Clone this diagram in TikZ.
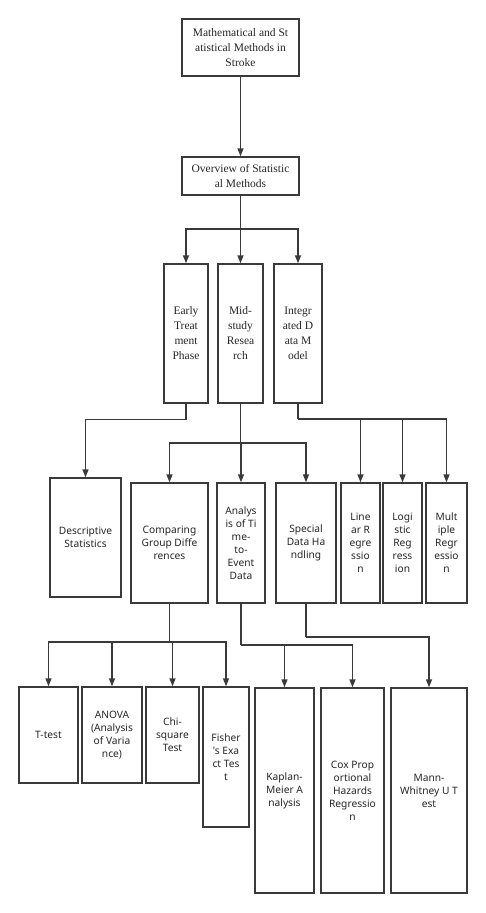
\documentclass[tikz,border=0pt]{standalone}
\usepackage{fontspec}
\setmainfont{Liberation Serif}
\newfontfamily\boxsans{Noto Sans}
\usetikzlibrary{arrows.meta}
\definecolor{lineclr}{HTML}{3A3A3A}

\begin{document}
\begin{tikzpicture}[
    x=1pt, y=-1pt,
    >={Triangle[length=8pt, width=6pt]},
    box/.style={rectangle, draw=lineclr, line width=1.4pt, align=center, inner sep=1pt, text=black!85},
    serifbox/.style={box, font=\fontsize{11.5}{15}\selectfont},
    sansbox/.style={box, font=\boxsans\fontsize{10.2}{13}\selectfont},
    link/.style={draw=lineclr, line width=1.4pt},
    ]
  \useasboundingbox (0,0) rectangle (486,913);

  \node[serifbox, minimum width=117pt, minimum height=57pt] (root) at (240.5, 47.5) {Mathematical and St\\atistical Methods in\\Stroke};
  \node[serifbox, minimum width=117pt, minimum height=38pt] (overview) at (240.5, 176) {Overview of Statistic\\al Methods};

  \node[serifbox, minimum width=44pt, minimum height=139pt] (early) at (186, 333.5) {Early\\Treat\\ment\\Phase};
  \node[serifbox, minimum width=45pt, minimum height=139pt] (mid) at (240.5, 333.5) {Mid-\\study\\Resea\\rch};
  \node[serifbox, minimum width=48pt, minimum height=139pt] (integ) at (298, 333.5) {Integr\\ated D\\ata M\\odel};

  \node[sansbox, minimum width=71pt, minimum height=119pt] (desc) at (85.5, 537.5) {Descriptive\\Statistics};
  \node[sansbox, minimum width=77pt, minimum height=120pt] (comp) at (169.5, 543) {Comparing\\Group Diffe\\rences};
  \node[sansbox, minimum width=48pt, minimum height=120pt] (tte) at (241, 543) {Analys\\is of Ti\\me-\\to-\\Event\\Data};
  \node[sansbox, minimum width=60pt, minimum height=120pt] (spec) at (306, 543) {Special\\Data Ha\\ndling};
  \node[sansbox, minimum width=39pt, minimum height=120pt] (linreg) at (360.5, 543) {Line\\ar R\\egre\\ssio\\n};
  \node[sansbox, minimum width=39pt, minimum height=120pt] (logreg) at (402.5, 543) {Logi\\stic\\Reg\\ress\\ion};
  \node[sansbox, minimum width=41pt, minimum height=120pt] (multreg) at (446.5, 543) {Mult\\iple\\Regr\\essio\\n};

  \node[sansbox, minimum width=59pt, minimum height=96pt] (ttest) at (48.5, 735) {T-test};
  \node[sansbox, minimum width=60pt, minimum height=96pt] (anova) at (112, 735) {ANOVA\\(Analysis\\of Varia\\nce)};
  \node[sansbox, minimum width=53pt, minimum height=96pt] (chisq) at (172.5, 735) {Chi-\\square\\Test};
  \node[sansbox, minimum width=46pt, minimum height=140pt] (fisher) at (226, 757) {Fisher\\'s Exa\\ct Tes\\t};

  \node[sansbox, minimum width=59pt, minimum height=205pt] (kaplan) at (284.5, 790.5) {Kaplan-\\Meier A\\nalysis};
  \node[sansbox, minimum width=63pt, minimum height=205pt] (cox) at (352.5, 790.5) {Cox Prop\\ortional\\Hazards\\Regressio\\n};
  \node[sansbox, minimum width=76pt, minimum height=205pt] (mann) at (429, 790.5) {Mann-\\Whitney U T\\est};

  \coordinate (ovj) at (240.5, 229);
  \coordinate (midj) at (240.5, 443);
  \coordinate (intj) at (298, 419);
  \coordinate (compj) at (169.5, 642);
  \coordinate (ttej) at (241, 645);
  \coordinate (specj) at (306, 637);

  \draw[link, ->] (root) -- (overview);
  \draw[link] (overview) -- (ovj);
  \draw[link, ->] (ovj) -| (early.north);
  \draw[link, ->] (ovj) -- (mid);
  \draw[link, ->] (ovj) -| (integ.north);

  \draw[link, ->] (early.south) -- ++(0,16) -| (desc.north);
  \draw[link] (mid) -- (midj);
  \draw[link, ->] (midj) -| (comp.north);
  \draw[link, ->] (midj) -| (tte.north);
  \draw[link, ->] (midj) -| (spec.north);
  \draw[link] (integ) -- (intj);
  \draw[link, ->] (intj) -| (linreg.north);
  \draw[link, ->] (intj) -| (logreg.north);
  \draw[link, ->] (intj) -| (multreg.north);

  \draw[link] (comp) -- (compj);
  \draw[link, ->] (compj) -| (ttest.north);
  \draw[link, ->] (compj) -| (anova.north);
  \draw[link, ->] (compj) -| (chisq.north);
  \draw[link, ->] (compj) -| (fisher.north);
  \draw[link] (tte) -- (ttej);
  \draw[link, ->] (ttej) -| (kaplan.north);
  \draw[link, ->] (ttej) -| (cox.north);
  \draw[link] (spec) -- (specj);
  \draw[link, ->] (specj) -| (mann.north);
\end{tikzpicture}
\end{document}
